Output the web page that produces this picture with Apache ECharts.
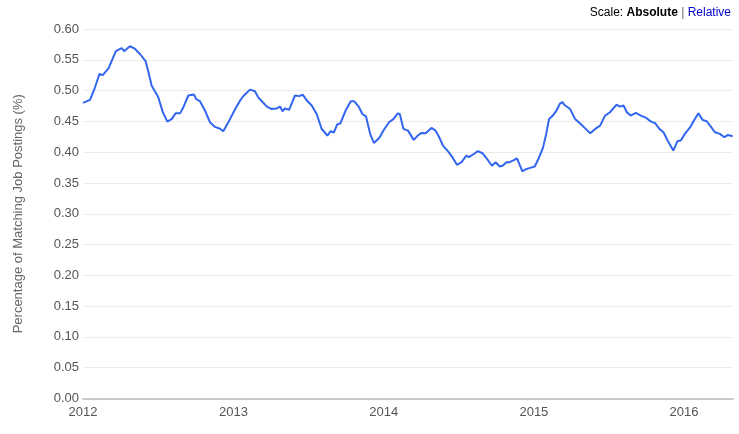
<!DOCTYPE html>
<html>
<head>
<meta charset="utf-8">
<script src="https://cdn.jsdelivr.net/npm/echarts@6/dist/echarts.min.js"></script>
<style>
html,body{margin:0;padding:0;background:#fff;}
#chart{width:739px;height:434px;}
</style>
</head>
<body>
<div id="chart"></div>
<script>
const dates = [
'2012-01-01','2012-01-18','2012-01-30','2012-02-10','2012-02-18','2012-03-03','2012-03-21','2012-04-04','2012-04-10','2012-04-24',
'2012-05-06','2012-05-19','2012-06-01','2012-06-08','2012-06-16','2012-07-02','2012-07-13','2012-07-24','2012-08-04','2012-08-13',
'2012-08-24','2012-09-01','2012-09-13','2012-09-27','2012-10-02','2012-10-11','2012-10-24','2012-11-05','2012-11-17','2012-11-29',
'2012-12-07','2012-12-19','2013-01-05','2013-01-17','2013-01-26','2013-02-10','2013-02-22','2013-03-02','2013-03-13','2013-03-23',
'2013-04-04','2013-04-16','2013-04-24','2013-04-30','2013-05-06','2013-05-16','2013-05-30','2013-06-10','2013-06-18','2013-06-28',
'2013-07-10','2013-07-22','2013-08-03','2013-08-17','2013-08-25','2013-09-02','2013-09-10','2013-09-18','2013-10-01','2013-10-13',
'2013-10-21','2013-11-02','2013-11-10','2013-11-19','2013-11-29','2013-12-08','2013-12-21','2014-01-01','2014-01-14','2014-01-25',
'2014-02-04','2014-02-09','2014-02-18','2014-03-01','2014-03-15','2014-03-25','2014-04-02','2014-04-13','2014-04-27','2014-05-07',
'2014-05-15','2014-05-25','2014-06-08','2014-06-18','2014-06-28','2014-07-09','2014-07-21','2014-07-27','2014-08-08','2014-08-18',
'2014-08-29','2014-09-09','2014-09-21','2014-09-30','2014-10-10','2014-10-18','2014-10-26','2014-11-03','2014-11-11','2014-11-21',
'2014-12-04','2014-12-14','2014-12-23','2015-01-03','2015-01-12','2015-01-23','2015-01-31','2015-02-07','2015-02-16','2015-02-24',
'2015-03-06','2015-03-12','2015-03-15','2015-03-30','2015-04-11','2015-04-23','2015-05-05','2015-05-18','2015-05-30','2015-06-11',
'2015-06-23','2015-07-05','2015-07-21','2015-07-29','2015-08-07','2015-08-15','2015-08-24','2015-09-06','2015-09-18','2015-10-01',
'2015-10-12','2015-10-23','2015-11-02','2015-11-12','2015-11-22','2015-12-06','2015-12-16','2015-12-24','2016-01-03','2016-01-16',
'2016-01-25','2016-02-05','2016-02-15','2016-02-25','2016-03-06','2016-03-16','2016-03-28','2016-04-08','2016-04-17','2016-04-28'
];
const values = [
0.480,0.485,0.505,0.527,0.525,0.536,0.564,0.569,0.564,0.572,
0.568,0.559,0.548,0.530,0.508,0.489,0.465,0.4495,0.454,0.463,
0.463,0.473,0.492,0.4935,0.486,0.483,0.467,0.448,0.441,0.438,
0.434,0.448,0.470,0.484,0.492,0.5016,0.499,0.489,0.481,0.474,
0.470,0.471,0.474,0.4665,0.471,0.4686,0.492,0.491,0.4935,0.484,
0.4757,0.462,0.438,0.427,0.434,0.432,0.445,0.447,0.4686,0.4827,
0.4827,0.473,0.462,0.458,0.4297,0.415,0.423,0.436,0.4486,0.454,
0.463,0.462,0.4378,0.435,0.420,0.427,0.431,0.4307,0.4394,0.435,
0.4254,0.4107,0.400,0.3907,0.3794,0.3837,0.3945,0.392,0.397,0.4016,
0.3983,0.389,0.378,0.3837,0.3767,0.3783,0.3837,0.3837,0.3864,0.390,
0.369,0.3728,0.3745,0.3767,0.389,0.407,0.4297,0.454,0.4594,0.4665,
0.4795,0.481,0.4773,0.470,0.454,0.447,0.439,0.4307,0.4378,0.443,
0.4594,0.4648,0.4773,0.474,0.4757,0.4648,0.4594,0.4637,0.4594,0.4556,
0.450,0.447,0.4378,0.4324,0.4189,0.4026,0.4178,0.4189,0.4297,0.4405,
0.4513,0.4632,0.4524,0.4502,0.4416,0.4324,0.4297,0.4243,0.428,0.4259
];
const xMin = '2012-01-01';
const xMax = '2016-04-29';
const yTicks = [0, 0.6, 0.05];
const yAxisTitle = 'Percentage of Matching Job Postings (%)';

const chart = echarts.init(document.getElementById('chart'), null, {renderer: 'canvas'});
const font = '"Liberation Sans", Arial, sans-serif';
chart.setOption({
  animation: false,
  backgroundColor: '#fff',
  title: {
    right: 3, top: 2,
    text: '{a|Scale: }{b|Absolute}{c| | }{d|Relative}',
    textStyle: {
      fontWeight: 'normal',
      rich: {
        a: {fontFamily: font, fontSize: 12, color: '#000', fontWeight: 'normal'},
        b: {fontFamily: font, fontSize: 12, color: '#000', fontWeight: 'bold'},
        c: {fontFamily: font, fontSize: 12, color: '#666', fontWeight: 'normal'},
        d: {fontFamily: font, fontSize: 12, color: '#0000cc', fontWeight: 'normal'}
      }
    }
  },
  grid: {left: 83, right: 6, top: 29, bottom: 35.5, containLabel: false},
  xAxis: {
    type: 'time',
    min: xMin,
    max: xMax,
    minInterval: 365 * 24 * 3600 * 1000,
    axisLine: {show: true, lineStyle: {color: '#c8c8c8', width: 2}},
    axisTick: {show: false},
    splitLine: {show: false},
    axisLabel: {
      color: '#555', fontFamily: font, fontSize: 13, margin: 7,
      formatter: '{yyyy}', showMaxLabel: false, showMinLabel: true
    }
  },
  yAxis: {
    type: 'value',
    min: yTicks[0], max: yTicks[1], interval: yTicks[2],
    name: yAxisTitle,
    nameLocation: 'middle',
    nameGap: 58,
    nameTextStyle: {color: '#666', fontFamily: font, fontSize: 13},
    axisLine: {show: false},
    axisTick: {show: false},
    splitLine: {lineStyle: {color: '#ececec', width: 1}},
    axisLabel: {
      color: '#555', fontFamily: font, fontSize: 13, margin: 4,
      formatter: v => v.toFixed(2)
    }
  },
  series: [{
    type: 'line',
    data: dates.map((d, i) => [d, values[i]]),
    showSymbol: false,
    smooth: false,
    lineStyle: {color: '#3366ee', width: 2},
    itemStyle: {color: '#3366ee'}
  }]
});
</script>
</body>
</html>
